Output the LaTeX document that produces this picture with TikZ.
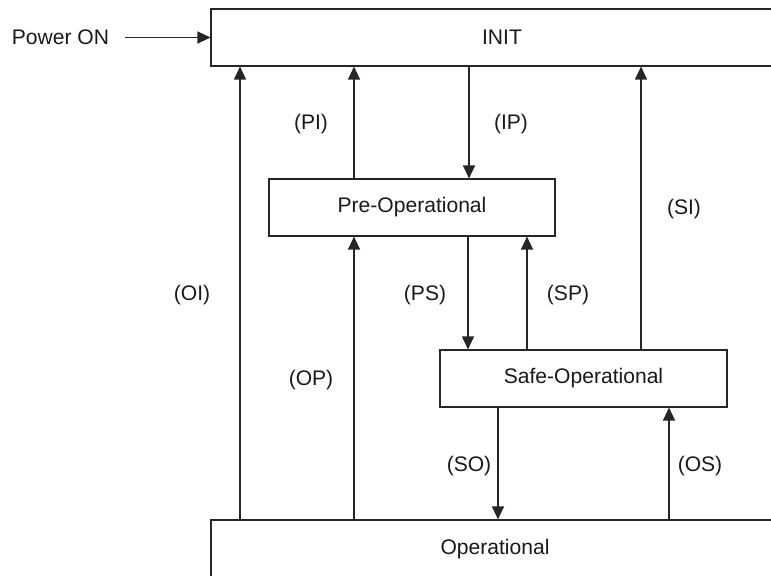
\documentclass[tikz,border=0pt]{standalone}
\usepackage{fontspec}
\setmainfont{Liberation Sans}
\usetikzlibrary{arrows.meta}
\tikzset{state/.style={draw,inner sep=0pt,minimum height=1.14cm}}
\tikzset{lbl/.style={inner sep=1pt}}

\begin{document}
\begin{tikzpicture}[x=0.02cm,y=-0.02cm,>={Triangle[length=0.26cm,width=0.24cm]},
    line width=0.65pt,draw=black!85,text=black!90,font=\fontsize{12}{14}\selectfont]
      \clip (0,0) rectangle (771,575);
      % states
      \node[state,minimum width=11.64cm] (INIT) at (502,37.5) {INIT};
      \node[state,minimum width=5.72cm]  (Pre)  at (412,207.5) {Pre-Operational};
      \node[state,minimum width=5.74cm]  (Safe) at (583.5,378.5) {Safe-Operational};
      \node[state,minimum width=11.36cm,minimum height=1.16cm] (Op) at (495,549) {Operational};
      \node[lbl] (pwr) at (60.5,37.5) {Power ON};
      % x positions of the transitions
      \foreach \n/\x in {OI/240,PI/354,IP/469,SI/641,OP/354,PS/468,SP/527,SO/498,OS/669}
        \coordinate (x\n) at (\x,0);
      \draw[->,shorten <=0.28cm] (pwr.east) -- (INIT.west);
      \draw[->] (Op.north -| xOI)   -- (INIT.south -| xOI);
      \draw[->] (Pre.north -| xPI)  -- (INIT.south -| xPI);
      \draw[->] (INIT.south -| xIP) -- (Pre.north -| xIP);
      \draw[->] (Safe.north -| xSI) -- (INIT.south -| xSI);
      \draw[->] (Op.north -| xOP)   -- (Pre.south -| xOP);
      \draw[->] (Pre.south -| xPS)  -- (Safe.north -| xPS);
      \draw[->] (Safe.north -| xSP) -- (Pre.south -| xSP);
      \draw[->] (Safe.south -| xSO) -- (Op.north -| xSO);
      \draw[->] (Op.north -| xOS)   -- (Safe.south -| xOS);
      % transition labels
      \node[lbl] (lPI) at (311,124) {(PI)};
      \node[lbl] (lIP) at (511,124) {(IP)};
      \node[lbl] (lSI) at (684,209) {(SI)};
      \node[lbl] (lOI) at (192,295) {(OI)};
      \node[lbl] (lPS) at (425,295) {(PS)};
      \node[lbl] (lSP) at (568,295) {(SP)};
      \node[lbl] (lOP) at (311,380) {(OP)};
      \node[lbl] (lSO) at (469,466) {(SO)};
      \node[lbl] (lOS) at (700,466) {(OS)};
    \end{tikzpicture}
\end{document}
